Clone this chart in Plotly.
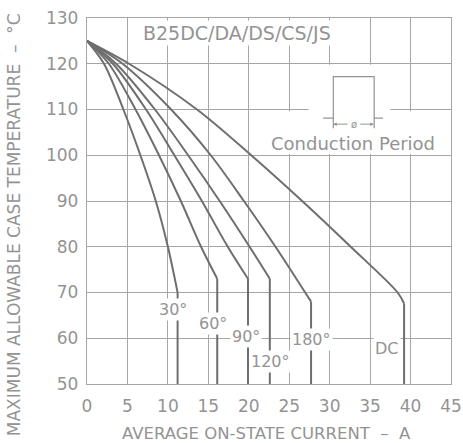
import plotly.graph_objects as go

# ---- data (I in A, T in degC) ----
labels = ["30°", "60°", "90°", "120°", "180°", "DC"]

cur_30 = [0, 2.1, 4.5, 6.6, 8.5, 10.0, 11.2]
temp_30 = [125, 120, 110, 100, 90, 80, 70]
cur_60 = [0, 2.7, 6.0, 8.9, 11.6, 14.1, 16.1]
temp_60 = [125, 120, 110, 100, 90, 80, 73]
cur_90 = [0, 3.2, 7.3, 10.8, 14.2, 17.4, 19.9]
temp_90 = [125, 120, 110, 100, 90, 80, 73]
cur_120 = [0, 3.6, 8.4, 12.5, 16.4, 20.1, 22.6]
temp_120 = [125, 120, 110, 100, 90, 80, 73]
cur_180 = [0, 4.4, 10.4, 15.3, 19.4, 23.3, 27.7]
temp_180 = [125, 120, 110, 100, 90, 80, 68]
cur_dc = [0, 5.2, 13.6, 20.3, 26.6, 32.6, 38.4, 39.2]
temp_dc = [125, 120, 110, 100, 90, 80, 70, 67.6]

floor_temp = 50

# label anchor positions (current, temperature)
label_x = [10.6, 15.6, 19.6, 22.7, 27.8, 37.1]
label_y = [66.2, 63.3, 60.3, 55.0, 59.7, 57.8]

x_ticks = [0, 5, 10, 15, 20, 25, 30, 35, 40, 45]
y_ticks = [50, 60, 70, 80, 90, 100, 110, 120, 130]

curves = [(cur_30, temp_30), (cur_60, temp_60), (cur_90, temp_90),
          (cur_120, temp_120), (cur_180, temp_180), (cur_dc, temp_dc)]

LINE = "#6e6e6e"
GRID = "#a6a6a6"
TXT = "#939393"
FONT = "DejaVu Sans"

fig = go.Figure()
for (cx, ty), name in zip(curves, labels):
    fig.add_trace(go.Scatter(x=cx, y=ty, mode="lines", name=name,
                             line=dict(color=LINE, width=2, shape="spline", smoothing=0.9),
                             showlegend=False, hoverinfo="skip"))
    fig.add_trace(go.Scatter(x=[cx[-1], cx[-1]], y=[ty[-1], floor_temp], mode="lines",
                             line=dict(color=LINE, width=2), showlegend=False, hoverinfo="skip"))

ann = []
for name, lx, ly in zip(labels, label_x, label_y):
    ann.append(dict(x=lx, y=ly, text=name, showarrow=False, bgcolor="white", borderpad=1,
                    font=dict(family=FONT, size=16, color=TXT)))

ann.append(dict(x=18.6, y=126.8, text="B25DC/DA/DS/CS/JS", showarrow=False, bgcolor="white",
                font=dict(family=FONT, size=19, color=TXT)))
ann.append(dict(x=32.9, y=102.5, text="Conduction Period", showarrow=False,
                font=dict(family=FONT, size=18, color=TXT)))
# dimension symbol
ann.append(dict(x=33.0, y=106.8, text="ø", showarrow=False, font=dict(family=FONT, size=10, color=TXT)))
ann.append(dict(x=30.45, y=106.8, ax=32.4, ay=106.8, axref="x", ayref="y", xref="x", yref="y",
                text="", showarrow=True, arrowhead=2, arrowsize=0.7, arrowwidth=1, arrowcolor=TXT))
ann.append(dict(x=35.45, y=106.8, ax=33.6, ay=106.8, axref="x", ayref="y", xref="x", yref="y",
                text="", showarrow=True, arrowhead=2, arrowsize=0.7, arrowwidth=1, arrowcolor=TXT))

ann.append(dict(xref="paper", yref="paper", x=0.4945, y=-0.134, text="AVERAGE ON-STATE CURRENT  –  A",
                showarrow=False, yanchor="middle", font=dict(family=FONT, size=16.5, color=TXT)))
ann.append(dict(xref="paper", yref="paper", x=-0.2005, y=0.434, textangle=-90,
                text="MAXIMUM ALLOWABLE CASE TEMPERATURE  –  °C",
                showarrow=False, xanchor="center", yanchor="middle", font=dict(family=FONT, size=17, color=TXT)))

shapes = [
    dict(type="rect", x0=27.4, x1=37.5, y0=100.3, y1=119.8, layer="between",
         fillcolor="white", line=dict(width=0)),
    dict(type="rect", x0=22.4, x1=43.6, y0=100.3, y1=109.6, layer="between",
         fillcolor="white", line=dict(width=0)),
    # pulse symbol
    dict(type="path", path="M 29.2 108.1 L 30.45 108.1 L 30.45 117.2 L 35.5 117.2 L 35.5 108.1 L 36.6 108.1",
         line=dict(color=TXT, width=1.2)),
    dict(type="line", x0=30.45, x1=30.45, y0=108.1, y1=105.9, line=dict(color=TXT, width=1.2)),
    dict(type="line", x0=35.5, x1=35.5, y0=108.1, y1=105.9, line=dict(color=TXT, width=1.2)),
]

axis_common = dict(showgrid=True, gridcolor=GRID, gridwidth=1.3, zeroline=False,
                   showline=True, mirror=True, linecolor=GRID, linewidth=1.3, automargin=False,
                   ticks="", tickfont=dict(family=FONT, size=17, color=TXT))

fig.update_layout(
    width=463, height=443,
    margin=dict(l=87, r=12, t=18, b=59, autoexpand=False),
    paper_bgcolor="white", plot_bgcolor="white",
    xaxis=dict(range=[0, 45], tickvals=x_ticks, ticklabelstandoff=6, **axis_common),
    yaxis=dict(range=[50, 130], tickvals=y_ticks, ticklabelstandoff=4, **axis_common),
    annotations=ann, shapes=shapes,
)

fig.write_html("out.html")
